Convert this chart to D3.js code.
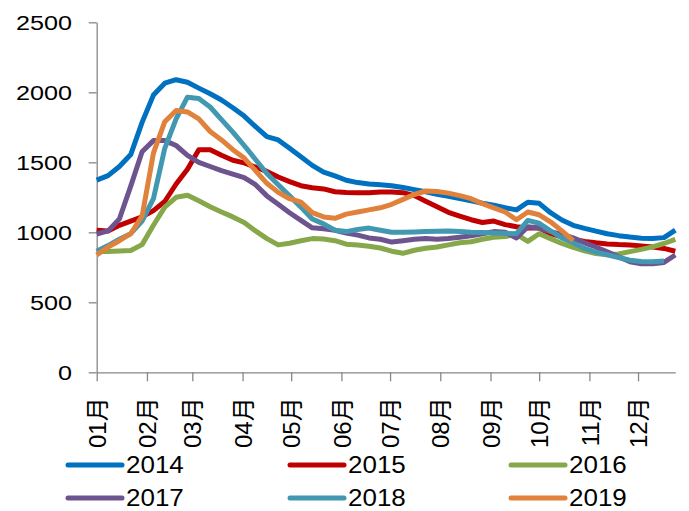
<!DOCTYPE html>
<html>
<head>
<meta charset="utf-8">
<script src="https://cdn.jsdelivr.net/npm/d3@7"></script>
<style>
  html, body { margin: 0; padding: 0; background: #fff; }
  svg { display: block; }
  text { font-family: "Liberation Sans", Arial, "Noto Sans CJK SC", sans-serif; fill: #000; }
</style>
</head>
<body>
<svg id="chart" width="689" height="511"></svg>
<script>
// ---- data (weekly, 52 weeks starting Jan 1) ----
const seriesNames = ["2014", "2015", "2016", "2017", "2018", "2019"];
const monthLabels = ["01月","02月","03月","04月","05月","06月","07月","08月","09月","10月","11月","12月"];
const yTicks = [0, 500, 1000, 1500, 2000, 2500];

const v2014 = [1373,1405,1470,1555,1785,1980,2065,2090,2072,2030,1990,1945,1890,1830,1755,1683,1660,1600,1540,1478,1430,1403,1372,1355,1345,1340,1333,1320,1305,1290,1272,1257,1241,1225,1208,1193,1175,1160,1215,1207,1140,1088,1050,1028,1008,990,976,966,958,956,962,1016];
const v2015 = [1015,1010,1050,1080,1110,1155,1220,1345,1450,1590,1590,1550,1515,1496,1465,1435,1395,1362,1333,1318,1310,1290,1285,1283,1283,1288,1288,1283,1262,1222,1183,1143,1115,1090,1070,1080,1055,1040,1030,1030,990,968,950,935,925,917,912,909,903,895,885,865];
const v2016 = [862,862,866,870,912,1050,1180,1250,1265,1225,1183,1145,1110,1070,1010,955,910,922,940,955,952,940,915,910,900,888,865,850,872,886,895,910,925,933,950,965,970,985,935,990,955,920,893,868,848,840,845,862,878,896,920,950];
const v2017 = [988,1010,1095,1330,1575,1655,1655,1620,1550,1500,1470,1440,1415,1390,1340,1260,1200,1140,1085,1032,1025,1015,995,980,960,950,930,940,950,955,950,955,965,975,990,1005,1000,960,1040,1030,1005,985,960,925,895,860,825,790,775,775,785,838];
const v2018 = [865,905,950,990,1080,1240,1600,1810,1965,1955,1895,1805,1715,1620,1520,1420,1340,1260,1180,1095,1060,1015,1005,1020,1030,1015,1000,1000,1003,1005,1008,1010,1005,1000,998,995,993,990,1085,1065,1010,960,925,885,858,840,820,800,792,790,795];
const v2019 = [838,895,940,990,1115,1565,1790,1870,1860,1810,1720,1660,1590,1530,1440,1350,1285,1240,1215,1140,1110,1100,1130,1145,1160,1175,1200,1235,1270,1295,1292,1280,1262,1240,1205,1175,1145,1090,1145,1125,1075,1010,940];

const seriesValues = [v2014, v2015, v2016, v2017, v2018, v2019];
const colors = ["#0070C0", "#C00000", "#86A84A", "#6E548F", "#4298B1", "#E0823B"];

// ---- layout ----
const svg = d3.select("#chart");
const mLeft = 96.7, mRight = 675.3, mTop = 22.3, mBottom = 372.3;

const weekDates = d3.range(52).map(i => new Date(2019, 0, 1 + 7 * i));
const monthDates = d3.range(12).map(m => new Date(2019, m, 1));

const x = d3.scaleTime()
  .domain([new Date(2019, 0, 1), new Date(2019, 11, 24)])
  .range([mLeft, mRight]);
const y = d3.scaleLinear().domain([0, 2500]).range([mBottom, mTop]);

svg.append("rect").attr("width", 689).attr("height", 511).attr("fill", "#fff");

// y axis
const yAxis = svg.append("g")
  .attr("transform", `translate(${mLeft},0)`)
  .call(d3.axisLeft(y).tickValues(yTicks).tickFormat(d3.format("d")).tickSize(8).tickSizeOuter(0));
yAxis.select(".domain").attr("stroke", "#878787").attr("stroke-width", 1.3);
yAxis.selectAll(".tick line").attr("stroke", "#878787").attr("stroke-width", 1.3);
yAxis.selectAll(".tick text")
  .attr("x", -20.6)
  .attr("dy", "0.36em")
  .attr("transform", "scale(1.2,1)")
  .style("font-size", "21px")
  .style("font-family", "'Liberation Sans', Arial, sans-serif")
  .attr("fill", "#000");

// x axis
const xAxis = svg.append("g")
  .attr("transform", `translate(0,${mBottom})`)
  .call(d3.axisBottom(x).tickValues(monthDates)
    .tickFormat((d, i) => monthLabels[i]).tickSize(9).tickSizeOuter(0));
xAxis.select(".domain").attr("stroke", "#878787").attr("stroke-width", 1.3);
xAxis.selectAll(".tick line").attr("stroke", "#878787").attr("stroke-width", 1.3);
xAxis.selectAll(".tick text")
  .attr("transform", "rotate(-90)")
  .attr("x", -25)
  .attr("y", 0)
  .attr("dy", "0.36em")
  .attr("text-anchor", "end")
  .style("font-size", "24px")
  .style("font-family", "'Liberation Sans', Arial, 'Noto Sans CJK SC', sans-serif")
  .attr("fill", "#000");

// lines
const line = d3.line()
  .x((d, i) => x(weekDates[i]))
  .y(d => y(d));

svg.append("g").selectAll("path")
  .data(seriesValues)
  .join("path")
  .attr("d", d => line(d))
  .attr("fill", "none")
  .attr("stroke", (d, i) => colors[i])
  .attr("stroke-width", 5)
  .attr("stroke-linejoin", "round")
  .attr("stroke-linecap", "butt");

// legend
const legCols = [68, 290, 511];
const legRows = [465, 498];
const legend = svg.append("g");
seriesNames.forEach((name, i) => {
  const cx = legCols[i % 3], cy = legRows[Math.floor(i / 3)];
  legend.append("line")
    .attr("x1", cx).attr("x2", cx + 54)
    .attr("y1", cy).attr("y2", cy)
    .attr("stroke", colors[i]).attr("stroke-width", 5)
    .attr("stroke-linecap", "round");
  legend.append("text")
    .attr("transform", `translate(${cx + 58},${cy}) scale(1.13,1)`)
    .attr("dy", "0.36em")
    .style("font-size", "23px")
    .text(name);
});
</script>
</body>
</html>
